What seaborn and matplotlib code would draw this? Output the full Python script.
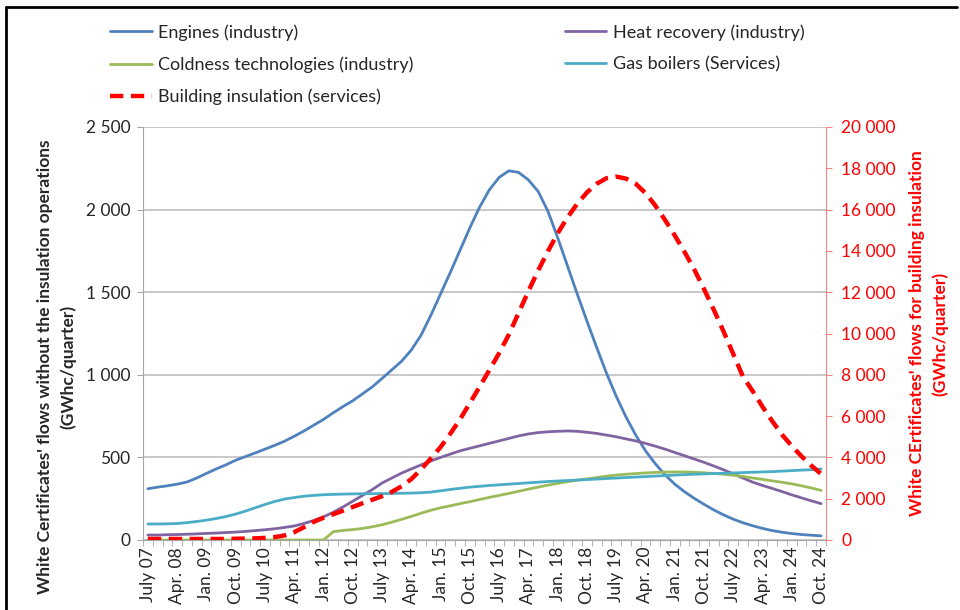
import numpy as np
import pandas as pd
import matplotlib
matplotlib.use("Agg")
import matplotlib.pyplot as plt
import seaborn as sns
from matplotlib.ticker import FuncFormatter, FixedLocator
from matplotlib.lines import Line2D

# quarterly x labels, July 07 .. Oct. 24 (shown every 3rd quarter)
quarters = []
for k in range(70):
    q = (2 + k) % 4
    yr = 2007 + (2 + k) // 4
    quarters.append(f"{['Jan.', 'Apr.', 'July', 'Oct.'][q]} {yr % 100:02d}")

engines = [310, 320, 328, 338, 351, 375, 403, 430, 455, 483,
           505, 527, 550, 573, 598, 628, 660, 695, 730, 770,
           808, 843, 885, 927, 978, 1030, 1082, 1150, 1240, 1360,
           1490, 1620, 1755, 1890, 2015, 2120, 2195, 2235, 2225, 2180,
           2110, 1990, 1830, 1660, 1490, 1325, 1165, 1010, 870, 745,
           635, 540, 462, 395, 338, 292, 252, 216, 182, 152,
           126, 104, 86, 70, 57, 47, 39, 33, 29, 25]
heat_recovery = [30, 30, 32, 33, 35, 37, 40, 42, 45, 48,
                 52, 57, 62, 68, 76, 85, 100, 118, 140, 168,
                 200, 235, 270, 305, 345, 375, 405, 430, 455, 478,
                 500, 520, 540, 555, 570, 585, 600, 615, 630, 642,
                 650, 655, 658, 660, 658, 652, 645, 635, 625, 612,
                 600, 585, 568, 550, 530, 510, 490, 470, 448, 425,
                 400, 375, 350, 330, 312, 293, 273, 255, 237, 220]
coldness = [0, 0, 0, 0, 0, 0, 0, 0, 0, 0,
            0, 0, 0, 0, 0, 0, 0, 0, 0, 50,
            58, 63, 70, 80, 92, 108, 125, 143, 162, 180,
            195, 207, 220, 232, 245, 258, 270, 282, 295, 308,
            320, 332, 343, 353, 362, 370, 378, 386, 393, 398,
            402, 406, 409, 411, 412, 412, 410, 407, 403, 398,
            392, 385, 375, 367, 358, 349, 340, 328, 315, 300]
gas_boilers = [97, 97, 98, 100, 105, 112, 120, 130, 142, 157,
               175, 195, 215, 233, 248, 257, 265, 270, 274, 276,
               278, 279, 280, 280, 281, 282, 283, 284, 286, 290,
               298, 306, 313, 320, 325, 330, 334, 338, 342, 346,
               350, 354, 357, 360, 363, 366, 369, 372, 375, 378,
               381, 384, 387, 390, 393, 396, 398, 400, 402, 404,
               406, 408, 410, 412, 414, 417, 420, 423, 426, 430]
insulation = [50, 50, 50, 50, 50, 50, 50, 50, 50, 60,
              70, 80, 100, 140, 220, 380, 620, 880, 1080, 1250,
              1420, 1600, 1780, 1950, 2120, 2330, 2600, 2950, 3420, 3950,
              4500, 5150, 5850, 6630, 7420, 8230, 9050, 9950, 11000, 12050,
              13050, 13980, 14850, 15620, 16280, 16830, 17250, 17520, 17600, 17500,
              17250, 16800, 16200, 15500, 14750, 13950, 13100, 12150, 11150, 10100,
              9000, 7900, 7200, 6450, 5750, 5100, 4550, 4050, 3600, 3200]

df = pd.DataFrame({
    "t": np.arange(len(quarters)),
    "Engines (industry)": engines,
    "Heat recovery (industry)": heat_recovery,
    "Coldness technologies (industry)": coldness,
    "Gas boilers (Services)": gas_boilers,
    "Building insulation (services)": insulation,
})

colors = {
    "Engines (industry)": "#4F81BD",
    "Heat recovery (industry)": "#8064A2",
    "Coldness technologies (industry)": "#9BBB59",
    "Gas boilers (Services)": "#4BACC6",
}

sns.set_style("white")
plt.rcParams["font.family"] = ["Lato", "DejaVu Sans"]

fig = plt.figure(figsize=(9.6, 6.1), dpi=100)
ax = fig.add_axes([143 / 960, 1 - 540 / 610, 683 / 960, 413 / 610])
ax2 = ax.twinx()

for name, c in colors.items():
    sns.lineplot(data=df, x="t", y=name, ax=ax, color=c, lw=2.0, label=name)
sns.lineplot(data=df, x="t", y="Building insulation (services)", ax=ax2,
             color="#FF0000", lw=3.2, linestyle=(0, (3.0, 1.7)),
             label="Building insulation (services)")
ax.get_legend().remove()
ax2.get_legend().remove()

ax.set_xlim(-0.5, len(quarters) - 0.5)
ax.set_ylim(0, 2500)
ax2.set_ylim(0, 20000)
ax.set_yticks(np.arange(0, 2501, 500))
ax2.set_yticks(np.arange(0, 20001, 2000))
fmt = FuncFormatter(lambda v, p: f"{v:,.0f}".replace(",", " "))
ax.yaxis.set_major_formatter(fmt)
ax2.yaxis.set_major_formatter(fmt)

ax.grid(axis="y", color="#BFBFBF", lw=1.2)
ax.set_axisbelow(True)

major = list(range(0, len(quarters), 3))
ax.xaxis.set_major_locator(FixedLocator(major))
ax.set_xticklabels([quarters[i] for i in major], rotation=90, fontsize=12.5)
ax.xaxis.set_minor_locator(FixedLocator(np.arange(-0.5, len(quarters), 1)))
ax.tick_params(axis="x", which="major", length=0, pad=5)
ax.tick_params(axis="x", which="minor", length=4, color="#A6A6A6", bottom=True)
ax.tick_params(axis="y", length=4, color="#A6A6A6", left=True, labelsize=12.5, pad=5)
ax2.tick_params(axis="y", length=4, color="#FF8080", right=True, labelsize=12.5,
                labelcolor="#FF0000", pad=7)

for a in (ax, ax2):
    a.spines["top"].set_visible(False)
ax.spines["left"].set_color("#A6A6A6")
ax.spines["bottom"].set_color("#A6A6A6")
ax.spines["right"].set_visible(False)
ax2.spines["left"].set_visible(False)
ax2.spines["bottom"].set_visible(False)
ax2.spines["right"].set_color("#FF8080")

ax.set_xlabel("")
ax.set_ylabel("White Certificates' flows without the insulation operations\n(GWhc/quarter)",
              fontsize=12.5, fontweight="bold", linespacing=1.45)
ax.yaxis.set_label_coords(-0.098, 0.42)
ax2.set_ylabel("White CErtificates' flows for building insulation\n(GWhc/quarter)",
               fontsize=12.5, fontweight="bold", color="#FF0000", rotation=90,
               linespacing=1.45)
ax2.yaxis.set_label_coords(1.122, 0.5)

h1, l1 = ax.get_legend_handles_labels()
h2, l2 = ax2.get_legend_handles_labels()
handles = dict(zip(l1 + l2, h1 + h2))
order = ["Engines (industry)", "Coldness technologies (industry)",
         "Building insulation (services)", "Heat recovery (industry)",
         "Gas boilers (Services)"]
fig.legend([handles[k] for k in order], order, loc="upper left",
           bbox_to_anchor=(101 / 960, 1 - 15 / 610), ncol=2, frameon=False,
           fontsize=13, handlelength=2.3, handletextpad=0.35,
           columnspacing=8.4, labelspacing=0.88, borderpad=0)

# outer chart border (left and top)
fig.add_artist(Line2D([6 / 960, 6 / 960], [0, 1 - 7 / 610], color="black", lw=2,
                      transform=fig.transFigure))
fig.add_artist(Line2D([6 / 960, 957 / 960], [1 - 7 / 610, 1 - 7 / 610], color="black",
                      lw=2, transform=fig.transFigure))

fig.savefig("out.png", dpi=100)
